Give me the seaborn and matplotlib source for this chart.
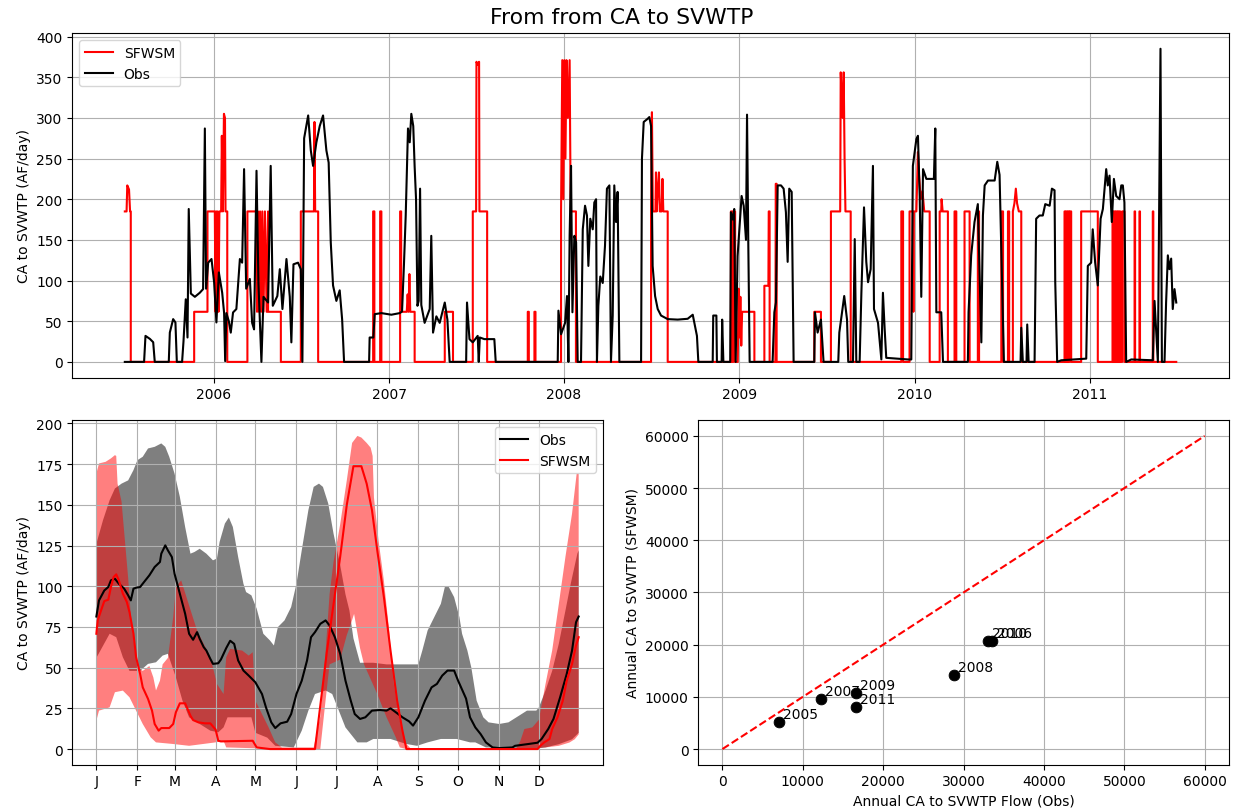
import numpy as np
import pandas as pd
import matplotlib
matplotlib.use("Agg")
import matplotlib.pyplot as plt
import seaborn as sns

# ---- top panel: daily flow (decimal year, AF/day)
sim_year = [2005.490, 2005.500, 2005.504, 2005.514, 2005.520, 2005.524, 2005.524,
            2005.886, 2005.886, 2005.962, 2005.962, 2006.004, 2006.008, 2006.012, 2006.016,
            2006.020, 2006.025, 2006.030, 2006.040, 2006.044, 2006.050, 2006.056, 2006.062,
            2006.065, 2006.075, 2006.075, 2006.190, 2006.190, 2006.240, 2006.245, 2006.250,
            2006.256, 2006.262, 2006.268, 2006.275, 2006.282, 2006.290, 2006.300, 2006.308,
            2006.308, 2006.381, 2006.381, 2006.495, 2006.495, 2006.570, 2006.573, 2006.577,
            2006.594, 2006.594, 2006.908, 2006.908, 2006.915, 2006.915, 2006.948, 2006.948,
            2006.955, 2006.955, 2007.062, 2007.062, 2007.068, 2007.068, 2007.100, 2007.105,
            2007.110, 2007.115, 2007.120, 2007.145, 2007.145, 2007.317, 2007.317, 2007.364,
            2007.364, 2007.477, 2007.477, 2007.496, 2007.498, 2007.505, 2007.513, 2007.515,
            2007.559, 2007.559, 2007.791, 2007.791, 2007.797, 2007.797, 2007.829, 2007.829,
            2007.835, 2007.835, 2007.981, 2007.981, 2007.988, 2007.994, 2008.000, 2008.006,
            2008.012, 2008.020, 2008.030, 2008.036, 2008.066, 2008.066, 2008.495, 2008.495,
            2008.500, 2008.505, 2008.520, 2008.523, 2008.527, 2008.533, 2008.540, 2008.545,
            2008.555, 2008.560, 2008.565, 2008.590, 2008.590, 2008.951, 2008.951, 2008.958,
            2008.958, 2008.965, 2008.965, 2008.975, 2008.975, 2008.990, 2008.995, 2009.000,
            2009.005, 2009.010, 2009.015, 2009.085, 2009.085, 2009.142, 2009.142, 2009.165,
            2009.167, 2009.172, 2009.172, 2009.205, 2009.207, 2009.212, 2009.212, 2009.427,
            2009.427, 2009.465, 2009.465, 2009.522, 2009.522, 2009.575, 2009.578, 2009.583,
            2009.590, 2009.595, 2009.600, 2009.605, 2009.635, 2009.635, 2009.924, 2009.924,
            2009.934, 2009.934, 2009.971, 2009.971, 2009.990, 2009.993, 2009.996, 2010.010,
            2010.019, 2010.025, 2010.035, 2010.045, 2010.055, 2010.086, 2010.086, 2010.143,
            2010.143, 2010.152, 2010.154, 2010.160, 2010.190, 2010.190, 2010.228, 2010.228,
            2010.238, 2010.238, 2010.285, 2010.285, 2010.314, 2010.314, 2010.361, 2010.361,
            2010.368, 2010.368, 2010.495, 2010.495, 2010.505, 2010.505, 2010.533, 2010.533,
            2010.540, 2010.540, 2010.561, 2010.561, 2010.570, 2010.578, 2010.585, 2010.595,
            2010.609, 2010.609, 2010.856, 2010.856, 2010.860, 2010.860, 2010.866, 2010.866,
            2010.870, 2010.870, 2010.876, 2010.876, 2010.880, 2010.880, 2010.885, 2010.885,
            2010.894, 2010.894, 2010.951, 2010.951, 2011.046, 2011.046, 2011.130, 2011.130,
            2011.134, 2011.134, 2011.140, 2011.140, 2011.144, 2011.144, 2011.150, 2011.150,
            2011.154, 2011.154, 2011.160, 2011.160, 2011.164, 2011.164, 2011.170, 2011.170,
            2011.174, 2011.174, 2011.185, 2011.185, 2011.198, 2011.198, 2011.256, 2011.256,
            2011.259, 2011.259, 2011.284, 2011.284, 2011.287, 2011.287, 2011.360, 2011.360,
            2011.363, 2011.363, 2011.494]
sim_flow = [185, 185, 217, 212, 185, 185, 0,
            0, 61.6, 61.6, 185, 185, 61.6, 185, 61.6,
            185, 61.6, 185, 185, 278, 185, 305, 300,
            185, 185, 0, 0, 185, 185, 61.6, 185,
            61.6, 185, 61.6, 185, 61.6, 185, 61.6, 185,
            61.6, 61.6, 0, 0, 185, 185, 295, 185,
            185, 0, 0, 185, 185, 0, 0, 185,
            185, 0, 0, 185, 185, 61.6, 61.6, 83,
            61.6, 108, 61.6, 61.6, 0, 0, 61.6, 61.6,
            0, 0, 185, 185, 369, 365, 369, 185,
            185, 0, 0, 61.6, 61.6, 0, 0, 61.6,
            61.6, 0, 0, 185, 371, 200, 371, 250,
            371, 300, 371, 185, 185, 0, 0, 185,
            307, 185, 185, 233, 185, 210, 233, 185,
            185, 225, 185, 185, 0, 0, 185, 185,
            0, 0, 185, 185, 0, 0, 90, 30,
            80, 20, 61.6, 61.6, 0, 0, 93.6, 93.6,
            185, 185, 0, 0, 219, 219, 0, 0,
            61.6, 61.6, 0, 0, 185, 185, 356, 330,
            300, 356, 250, 185, 185, 0, 0, 185,
            185, 0, 0, 185, 185, 61.6, 185, 185,
            258, 230, 200, 210, 185, 185, 0, 0,
            185, 185, 200, 185, 185, 0, 0, 185,
            185, 0, 0, 185, 185, 0, 0, 185,
            185, 0, 0, 185, 185, 0, 0, 185,
            185, 0, 0, 185, 195, 213, 195, 185,
            185, 0, 0, 185, 185, 0, 0, 185,
            185, 0, 0, 185, 185, 0, 0, 185,
            185, 0, 0, 185, 185, 0, 0, 185,
            185, 0, 0, 185, 185, 0, 0, 185,
            185, 0, 0, 185, 185, 0, 0, 185,
            185, 0, 0, 185, 185, 0, 0, 185,
            185, 0, 0, 185, 185, 0, 0, 185,
            185, 0, 0]

obs_year = [2005.490, 2005.600, 2005.608, 2005.633, 2005.652, 2005.661, 2005.741, 2005.747,
            2005.766, 2005.779, 2005.787, 2005.817, 2005.825, 2005.838, 2005.848, 2005.855,
            2005.867, 2005.890, 2005.918, 2005.937, 2005.947, 2005.954, 2005.966, 2005.985,
            2006.000, 2006.013, 2006.027, 2006.046, 2006.057, 2006.063, 2006.070, 2006.084,
            2006.095, 2006.108, 2006.127, 2006.147, 2006.160, 2006.171, 2006.183, 2006.204,
            2006.217, 2006.228, 2006.242, 2006.253, 2006.263, 2006.270, 2006.282, 2006.308,
            2006.323, 2006.335, 2006.361, 2006.375, 2006.390, 2006.413, 2006.432, 2006.441,
            2006.453, 2006.479, 2006.495, 2006.504, 2006.514, 2006.537, 2006.552, 2006.565,
            2006.584, 2006.603, 2006.622, 2006.641, 2006.654, 2006.666, 2006.679, 2006.698,
            2006.717, 2006.731, 2006.742, 2006.885, 2006.888, 2006.909, 2006.917, 2006.955,
            2007.012, 2007.060, 2007.073, 2007.084, 2007.094, 2007.107, 2007.117, 2007.126,
            2007.137, 2007.145, 2007.153, 2007.161, 2007.168, 2007.176, 2007.183, 2007.202,
            2007.231, 2007.240, 2007.250, 2007.269, 2007.288, 2007.317, 2007.332, 2007.345,
            2007.439, 2007.444, 2007.458, 2007.477, 2007.505, 2007.511, 2007.517, 2007.543,
            2007.600, 2007.608, 2007.962, 2007.966, 2007.981, 2008.004, 2008.015, 2008.023,
            2008.030, 2008.038, 2008.046, 2008.057, 2008.067, 2008.076, 2008.095, 2008.105,
            2008.118, 2008.129, 2008.137, 2008.148, 2008.162, 2008.171, 2008.181, 2008.186,
            2008.194, 2008.205, 2008.219, 2008.232, 2008.243, 2008.257, 2008.266, 2008.276,
            2008.285, 2008.295, 2008.304, 2008.314, 2008.438, 2008.443, 2008.453, 2008.476,
            2008.485, 2008.495, 2008.504, 2008.518, 2008.533, 2008.552, 2008.590, 2008.647,
            2008.704, 2008.733, 2008.742, 2008.757, 2008.765, 2008.847, 2008.850, 2008.868,
            2008.871, 2008.898, 2008.901, 2008.908, 2008.947, 2008.951, 2008.961, 2008.970,
            2008.978, 2008.989, 2009.012, 2009.024, 2009.037, 2009.043, 2009.050, 2009.058,
            2009.189, 2009.199, 2009.208, 2009.218, 2009.237, 2009.252, 2009.265, 2009.275,
            2009.284, 2009.298, 2009.309, 2009.427, 2009.431, 2009.446, 2009.465, 2009.480,
            2009.564, 2009.570, 2009.598, 2009.614, 2009.621, 2009.648, 2009.658, 2009.667,
            2009.686, 2009.696, 2009.711, 2009.724, 2009.734, 2009.749, 2009.762, 2009.768,
            2009.791, 2009.810, 2009.819, 2009.829, 2009.838, 2009.962, 2009.981, 2009.990,
            2010.010, 2010.019, 2010.029, 2010.038, 2010.048, 2010.067, 2010.095, 2010.110,
            2010.118, 2010.124, 2010.152, 2010.162, 2010.304, 2010.308, 2010.323, 2010.342,
            2010.361, 2010.381, 2010.390, 2010.400, 2010.419, 2010.457, 2010.472, 2010.485,
            2010.495, 2010.510, 2010.605, 2010.609, 2010.618, 2010.639, 2010.643, 2010.651,
            2010.685, 2010.694, 2010.713, 2010.732, 2010.746, 2010.771, 2010.784, 2010.799,
            2010.803, 2010.814, 2010.837, 2010.913, 2010.980, 2010.989, 2011.008, 2011.017,
            2011.031, 2011.046, 2011.062, 2011.075, 2011.094, 2011.103, 2011.113, 2011.126,
            2011.138, 2011.151, 2011.170, 2011.180, 2011.189, 2011.198, 2011.208, 2011.237,
            2011.360, 2011.370, 2011.379, 2011.389, 2011.404, 2011.412, 2011.427, 2011.436,
            2011.446, 2011.455, 2011.465, 2011.474, 2011.484, 2011.494]
obs_flow = [0, 0, 32, 28.3, 24.2, 0, 0, 36.1,
            52.6, 48.5, 0, 0, 25, 77, 30, 188,
            84, 80, 85, 89.5, 287, 90, 122, 126.5,
            97.7, 48.5, 110, 85, 60, 1, 60, 50,
            36, 60.8, 65, 126.5, 122, 237, 90, 102,
            48, 40, 235, 97, 40, 0, 80, 73,
            241, 69, 81, 114, 65, 126.5, 80, 24,
            120, 122, 114, 0, 275, 303, 260, 241,
            270, 290, 303, 260, 245, 147, 94, 75,
            88, 52, 0, 0, 30, 30, 58.7, 60,
            58, 60, 62, 120, 180, 287, 270, 305,
            290, 240, 200, 69, 75, 213, 70, 48,
            65, 155, 36, 56, 48, 73, 52, 0,
            0, 73, 28, 24, 32, 0, 30, 28,
            28, 0, 0, 63, 34, 48, 81, 0,
            155, 241, 61, 155, 147, 0, 0, 163,
            192, 180, 118, 176, 163, 196, 200, 0,
            69, 105, 97, 143, 213, 217, 0, 57,
            217, 172, 209, 0, 0, 250, 295, 299,
            301, 290, 118, 81, 65, 57, 52.6, 52,
            53, 58, 48, 32, 0, 0, 57, 57,
            0, 0, 52, 0, 0, 184, 175, 188,
            0, 130, 204, 192, 150, 304, 150, 0,
            0, 61, 73, 217, 217, 213, 184, 123,
            213, 209, 0, 0, 61, 36, 52, 0,
            0, 36, 81, 52, 0, 0, 151, 0,
            0, 85, 190, 123, 98, 114, 241, 65,
            48, 3, 85, 40, 5, 3, 3, 241,
            274, 278, 204, 80, 237, 225, 225, 225,
            287, 61, 61, 0, 0, 61, 131, 172,
            194, 24, 180, 217, 223, 223, 246, 230,
            139, 0, 0, 42, 0, 0, 46, 0,
            0, 176, 180, 180, 194, 192, 213, 211,
            98, 0, 2, 3, 4, 118, 122, 163,
            122, 94, 176, 188, 237, 217, 229, 172,
            225, 204, 200, 217, 217, 196, 0, 3,
            2, 75, 40, 0, 385, 0, 0, 73,
            131, 114, 127, 65, 89.5, 73]

# ---- bottom left: day-of-year climatology (line = central value, band = spread)
obs_doy = [1, 3, 7, 10, 12, 15, 18, 22, 25, 27, 29, 31, 34, 37, 41, 45, 49, 50, 53, 55,
           58, 60, 64, 68, 71, 74, 77, 79, 82, 84, 87, 89, 93, 95, 99, 102, 105, 108, 112, 116,
           121, 126, 129, 133, 136, 140, 145, 148, 152, 156, 160, 163, 166, 170, 174, 177, 181, 185, 189, 193,
           196, 200, 204, 209, 215, 220, 223, 227, 232, 237, 240, 244, 249, 254, 258, 262, 266, 271, 274, 280,
           283, 287, 291, 295, 300, 305, 315, 317, 327, 334, 337, 342, 346, 351, 356, 360, 363, 365]
obs_mid = [81.4, 91.3, 97.4, 99.5, 103.6, 104.6, 101.5, 98.5, 94.4, 91.3, 98.5, 99.1, 99.5, 102.6, 106.7, 111.8, 114.9, 120, 125.1, 122,
           117.9, 107.7, 95.4, 83.1, 70.8, 67.1, 71.8, 67.7, 62.6, 60.5, 55.4, 52.3, 52.7, 55, 62, 66.5, 64.6, 54.4, 48.2, 45.1,
           41, 33.8, 25.6, 16.4, 12.9, 15.8, 16.8, 21.5, 33.8, 42, 54.4, 68.7, 71.8, 76.9, 79, 75.9, 68.7, 58.5, 42, 29.7,
           21.5, 18.5, 19.5, 23.6, 24, 23.6, 25, 22.6, 19.5, 17, 14.4, 19.5, 29.7, 37.9, 40, 45.1, 48.2, 48.2, 42, 31,
           19.5, 13.3, 9.2, 4.1, 1, 0.6, 1, 2, 3.1, 3.9, 6.2, 12.3, 18.5, 31.8, 46.2, 60.5, 77.9, 81.4]

sim_doy = [1, 2, 5, 7, 10, 12, 14, 16, 18, 21, 24, 26, 29, 31, 34, 36, 40, 43, 45, 48,
           50, 56, 59, 61, 64, 68, 72, 74, 78, 83, 87, 90, 91, 93, 95, 119, 122, 132, 166, 175,
           185, 190, 195, 201, 205, 209, 213, 218, 223, 228, 232, 235, 334, 336, 339, 343, 345, 349, 353, 356,
           360, 363, 365]
sim_mid = [70.8, 79, 86.2, 90.9, 91.7, 99.5, 105.6, 107.3, 103.6, 95.4, 90.3, 84.1, 70.8, 56.4, 46.2, 37.9, 30.8, 23.6, 15.4, 11.3,
           12.9, 12.9, 15.4, 22.6, 28.1, 28.1, 20.5, 17.8, 16.4, 15.8, 15.8, 12.9, 12, 5.1, 4.7, 5.1, 1, 0, 0, 60,
           118, 150, 173.7, 173.7, 163, 146.7, 122, 93.3, 60.5, 29.7, 11.3, 0, 0, 2, 4.1, 6.2, 12.3, 19.5, 29.7, 42,
           52.3, 63.6, 68.7]

obs_hi_doy = [1, 6, 11, 15, 20, 25, 29, 32, 36, 40, 45, 50, 53, 56, 60, 64, 68, 72, 75, 79,
              84, 89, 92, 94, 98, 101, 104, 108, 112, 114, 118, 122, 127, 132, 135, 138, 143, 148, 152, 156,
              161, 165, 169, 172, 176, 180, 185, 189, 192, 195, 200, 210, 220, 230, 244, 247, 251, 256, 261, 264,
              267, 271, 275, 277, 281, 284, 288, 293, 297, 305, 312, 320, 326, 333, 335, 340, 345, 350, 355, 359,
              364, 365]
obs_hi = [126, 140.5, 152.8, 160, 163, 165, 171.3, 177.4, 179.5, 184.6, 185.6, 187.7, 185.6, 179.5, 169.2, 154.9, 136.4, 120, 121, 123,
          120, 115.9, 117, 127.2, 138.5, 142.2, 136.4, 118, 101.5, 96.4, 94.4, 86.2, 70.8, 66.7, 63.6, 74.9, 79, 87.2, 101.5, 122,
          146.7, 161, 163, 161, 150.8, 132.3, 113, 95, 85, 68, 53, 53, 52, 52, 52, 60.5, 72.8, 81, 89.2, 99.5,
          99.5, 93.3, 81, 70.8, 60.5, 50, 29.7, 19.5, 16.4, 15.4, 16.4, 20.5, 23.6, 23.6, 25.6, 36, 48, 64.6, 85, 101.5,
          120, 122]
obs_lo_doy = [1, 11, 16, 21, 26, 34, 40, 46, 51, 55, 61, 66, 71, 79, 87, 93, 97, 100, 110, 118,
              121, 130, 136, 150, 156, 161, 166, 174, 179, 184, 189, 193, 198, 205, 210, 223, 235, 243, 251, 261,
              273, 283, 287, 295, 335, 340, 350, 360, 365]
obs_lo = [56, 70.8, 68.7, 56.4, 48, 48, 52.3, 53.3, 57.4, 58.5, 44, 29.7, 19.5, 15.4, 11.3, 10.3, 13.3, 19.5, 19.5, 19.5,
          10, 7, 2, 1, 11.3, 23.6, 33.8, 36, 33.8, 23.6, 13.3, 9.2, 4.1, 4.1, 6.2, 6.2, 3.1, 2, 4.1, 6.2,
          6.2, 4.1, 4.1, 1, 0.5, 1, 3, 6, 10]

sim_hi_doy = [1, 3, 8, 12, 15, 16, 17, 20, 25, 27, 30, 32, 36, 41, 44, 46, 49, 51, 55, 59,
              61, 65, 69, 73, 77, 82, 87, 89, 92, 97, 99, 102, 111, 116, 119, 121, 126, 131, 136, 141,
              165, 170, 174, 177, 180, 185, 190, 194, 198, 201, 205, 208, 209.5, 210.5, 214, 218, 222, 225, 230, 235,
              238, 318, 321, 324, 330, 335, 340, 345, 350, 355, 360, 363.5, 365]
sim_hi = [169.2, 175.4, 176.4, 178.5, 180.5, 180, 163, 152, 105, 82, 60, 50, 48, 51, 44, 36, 42, 52, 56, 81,
          99.5, 103.6, 93.3, 83, 72.8, 64.6, 56.4, 50, 40, 33.8, 56.4, 61.5, 60.5, 57.4, 59.5, 29.7, 21.5, 13.3, 4.1, 1,
          1, 20, 60, 95, 115, 138, 165, 188, 192.3, 191.3, 188, 185.1, 180, 154.5, 127.9, 103.3, 72.6, 41.9, 17.4, 3.1,
          0.5, 0.5, 5, 12.3, 13.3, 18, 40, 60.5, 89, 118, 144.6, 169.2, 169.2]
sim_lo_doy = [1, 3, 11, 15, 21, 26, 31, 36, 42, 46, 59, 71, 90, 97, 99, 120, 165, 170, 174, 177,
              185, 190, 193.5, 195.5, 200, 203, 213, 220, 227, 230, 235, 320, 330, 340, 350, 358, 362, 365]
sim_lo = [17.4, 23.6, 25.6, 34.9, 35.9, 31.8, 23.6, 15.4, 7.2, 4.1, 3.1, 2, 4, 5, 1, 0.5, 0, 0, 30, 52,
          55, 70, 78, 83, 62, 52, 33.8, 19.5, 7.2, 1, 0, 0, 0.5, 1, 2, 4, 6, 9]

month_days = [1, 32, 60, 91, 121, 152, 182, 213, 244, 274, 305, 335]
month_labels = ["J", "F", "M", "A", "M", "J", "J", "A", "S", "O", "N", "D"]

# ---- bottom right: annual totals
years = [2005, 2006, 2007, 2008, 2009, 2010, 2011]
annual_obs = [7000, 33600, 12300, 28800, 16600, 33000, 16600]
annual_sim = [5100, 20700, 9500, 14100, 10800, 20700, 8100]


def to_date(yrs):
    yrs = np.asarray(yrs, dtype=float)
    return pd.Timestamp("2005-01-01") + pd.to_timedelta((yrs - 2005) * 365.25, unit="D")


def band(ax, x_hi, y_hi, x_lo, y_lo, color):
    xs = np.concatenate([x_hi, np.asarray(x_lo)[::-1]])
    ys = np.concatenate([y_hi, np.asarray(y_lo)[::-1]])
    ax.fill(xs, ys, color=color, alpha=0.5, lw=0)


fig = plt.figure(figsize=(12.35, 8.12), dpi=100)
gs = fig.add_gridspec(2, 2, left=0.0585, right=0.995, top=0.958, bottom=0.057,
                      hspace=0.124, wspace=0.18)
ax1 = fig.add_subplot(gs[0, :])
ax2 = fig.add_subplot(gs[1, 0])
ax3 = fig.add_subplot(gs[1, 1])

fig.suptitle("From from CA to SVWTP", fontsize=15.75, x=0.503, y=0.99)

# top: time series
sns.lineplot(x=to_date(sim_year), y=sim_flow, color="r", estimator=None, sort=False,
             label="SFWSM", ax=ax1)
sns.lineplot(x=to_date(obs_year), y=obs_flow, color="k", estimator=None, sort=False,
             label="Obs", ax=ax1)
ax1.set_ylabel("CA to SVWTP (AF/day)")
ax1.set_xlabel("")
ax1.legend(loc="upper left")
ax1.grid(True)

# bottom left: seasonal cycle
band(ax2, obs_hi_doy, obs_hi, obs_lo_doy, obs_lo, "k")
band(ax2, sim_hi_doy, sim_hi, sim_lo_doy, sim_lo, "r")
sns.lineplot(x=obs_doy, y=obs_mid, color="k", estimator=None, sort=False, label="Obs", ax=ax2)
sns.lineplot(x=sim_doy, y=sim_mid, color="r", estimator=None, sort=False, label="SFWSM", ax=ax2)
ax2.set_xticks(month_days)
ax2.set_xticklabels(month_labels)
ax2.set_ylabel("CA to SVWTP (AF/day)")
ax2.legend(loc="upper right")
ax2.grid(True)

# bottom right: annual totals
sns.lineplot(x=[0, 60000], y=[0, 60000], color="r", linestyle="--", ax=ax3)
sns.scatterplot(x=annual_obs, y=annual_sim, color="k", edgecolor="k", s=60, zorder=3, ax=ax3)
for yr, xo, ys in zip(years, annual_obs, annual_sim):
    ax3.annotate(str(yr), (xo, ys), xytext=(3, 3), textcoords="offset points", fontsize=10)
ax3.set_xlabel("Annual CA to SVWTP Flow (Obs)")
ax3.set_ylabel("Annual CA to SVWTP (SFWSM)")
ax3.grid(True)

fig.savefig("out.png", dpi=100)
